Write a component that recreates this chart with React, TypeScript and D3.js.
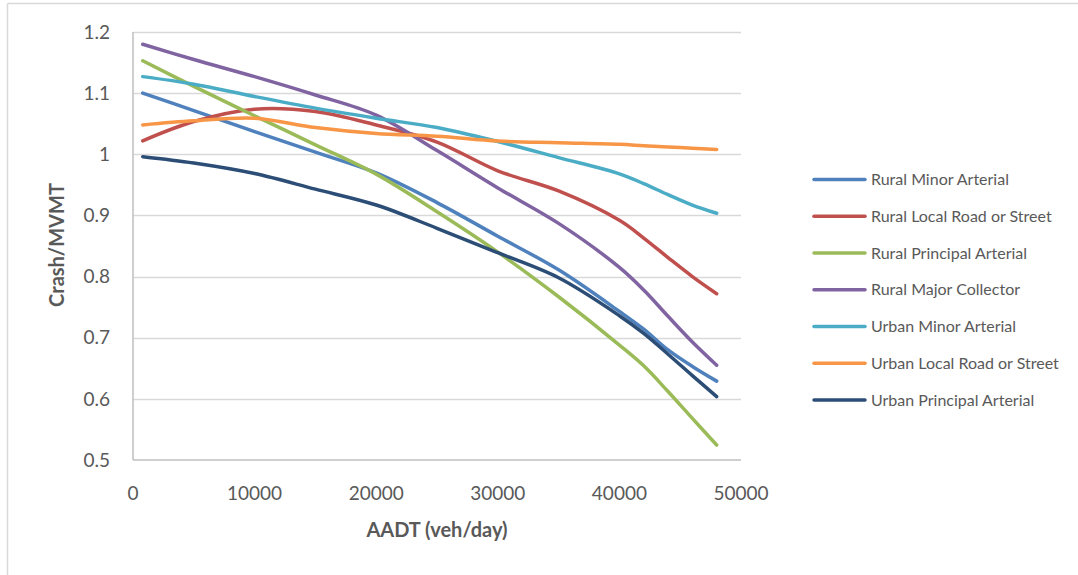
import React, { useEffect, useRef } from "react";
import * as d3 from "d3";

// AADT sample points (veh/day) shared by every series
const aadt = [800, 5000, 10000, 15000, 20000, 25000, 30000, 35000, 40000, 42000, 44000, 46000, 48000];

const seriesNames = [
  "Rural Minor Arterial",
  "Rural Local Road or Street",
  "Rural Principal Arterial",
  "Rural Major Collector",
  "Urban Minor Arterial",
  "Urban Local Road or Street",
  "Urban Principal Arterial",
];

const ruralMinorArterial = [1.100, 1.0715, 1.037, 1.0035, 0.9696, 0.921, 0.866, 0.811, 0.743, 0.714, 0.680, 0.653, 0.629];
const ruralLocalRoad = [1.022, 1.0536, 1.0738, 1.070, 1.048, 1.020, 0.973, 0.940, 0.892, 0.863, 0.831, 0.800, 0.772];
const ruralPrincipalArterial = [1.153, 1.111, 1.063, 1.0155, 0.9675, 0.906, 0.840, 0.767, 0.688, 0.654, 0.612, 0.568, 0.5245];
const ruralMajorCollector = [1.180, 1.155, 1.127, 1.097, 1.064, 1.006, 0.945, 0.887, 0.815, 0.778, 0.735, 0.693, 0.655];
const urbanMinorArterial = [1.127, 1.1147, 1.0945, 1.0755, 1.059, 1.0437, 1.0208, 0.9946, 0.968, 0.952, 0.934, 0.917, 0.9035];
const urbanLocalRoad = [1.048, 1.0547, 1.059, 1.0437, 1.034, 1.0296, 1.0218, 1.019, 1.0164, 1.014, 1.012, 1.010, 1.008];
const urbanPrincipalArterial = [0.996, 0.9857, 0.9685, 0.943, 0.917, 0.879, 0.839, 0.798, 0.736, 0.707, 0.673, 0.638, 0.6036];

const seriesValues = [
  ruralMinorArterial,
  ruralLocalRoad,
  ruralPrincipalArterial,
  ruralMajorCollector,
  urbanMinorArterial,
  urbanLocalRoad,
  urbanPrincipalArterial,
];

const seriesColors = ["#4F81BD", "#C0504D", "#9BBB59", "#8064A2", "#4BACC6", "#F79646", "#2C4D75"];

const xTicks = [0, 10000, 20000, 30000, 40000, 50000];
const yTicks = [0.5, 0.6, 0.7, 0.8, 0.9, 1.0, 1.1, 1.2];

const W = 1078;
const H = 575;
const FONT = "Lato, 'Open Sans', sans-serif";

export default function App() {
  const ref = useRef<SVGSVGElement | null>(null);

  useEffect(() => {
    const svg = d3.select(ref.current);
    svg.selectAll("*").remove();

    // chart frame
    svg.append("rect").attr("x", 0).attr("y", 0).attr("width", W).attr("height", H).attr("fill", "#fff");
    svg.append("line").attr("x1", 7.5).attr("x2", W).attr("y1", 3.5).attr("y2", 3.5).attr("stroke", "#D9D9D9").attr("stroke-width", 1.5);
    svg.append("line").attr("x1", 7.5).attr("x2", 7.5).attr("y1", 3.5).attr("y2", H).attr("stroke", "#D9D9D9").attr("stroke-width", 1.5);

    const x = d3.scaleLinear().domain([0, 50000]).range([133, 741]);
    const y = d3.scaleLinear().domain([0.5, 1.2]).range([460, 32]);

    // horizontal gridlines
    svg.append("g")
      .selectAll("line")
      .data(yTicks.filter((t) => t > 0.5))
      .join("line")
      .attr("x1", x(0))
      .attr("x2", x(50000))
      .attr("y1", (d) => Math.round(y(d)) + 0.5)
      .attr("y2", (d) => Math.round(y(d)) + 0.5)
      .attr("stroke", "#D9D9D9")
      .attr("stroke-width", 1.5);

    // axes lines
    svg.append("line")
      .attr("x1", x(0)).attr("x2", x(0))
      .attr("y1", y(1.2)).attr("y2", y(0.5))
      .attr("stroke", "#BFBFBF").attr("stroke-width", 1.5);
    svg.append("line")
      .attr("x1", x(0)).attr("x2", x(50000))
      .attr("y1", y(0.5)).attr("y2", y(0.5))
      .attr("stroke", "#BFBFBF").attr("stroke-width", 1.5);

    // y tick labels
    svg.append("g")
      .selectAll("text")
      .data(yTicks)
      .join("text")
      .attr("x", 110)
      .attr("y", (d) => y(d))
      .attr("dy", "0.35em")
      .attr("text-anchor", "end")
      .attr("font-family", FONT)
      .attr("font-size", 19)
      .attr("fill", "#595959")
      .text((d) => d3.format("")(d));

    // x tick labels
    svg.append("g")
      .selectAll("text")
      .data(xTicks)
      .join("text")
      .attr("x", (d) => x(d))
      .attr("y", 493)
      .attr("dy", "0.35em")
      .attr("text-anchor", "middle")
      .attr("font-family", FONT)
      .attr("font-size", 19)
      .attr("fill", "#595959")
      .text((d) => String(d));

    // axis titles
    svg.append("text")
      .attr("x", 437)
      .attr("y", 530)
      .attr("dy", "0.35em")
      .attr("text-anchor", "middle")
      .attr("font-family", FONT)
      .attr("font-weight", "bold")
      .attr("font-size", 20)
      .attr("fill", "#595959")
      .text("AADT (veh/day)");

    svg.append("text")
      .attr("transform", "translate(57,245) rotate(-90)")
      .attr("dy", "0.35em")
      .attr("text-anchor", "middle")
      .attr("font-family", FONT)
      .attr("font-weight", "bold")
      .attr("font-size", 20)
      .attr("fill", "#595959")
      .text("Crash/MVMT");

    // smoothed series lines
    const line = d3
      .line<number>()
      .x((_, i) => x(aadt[i]))
      .y((d) => y(d))
      .curve(d3.curveCatmullRom.alpha(0.5));

    svg.append("g")
      .selectAll("path")
      .data(seriesValues)
      .join("path")
      .attr("d", (d) => line(d))
      .attr("fill", "none")
      .attr("stroke", (_, i) => seriesColors[i])
      .attr("stroke-width", 3.5)
      .attr("stroke-linecap", "round")
      .attr("stroke-linejoin", "round");

    // legend
    const legend = svg.append("g");
    seriesNames.forEach((name, i) => {
      const ly = 179.5 + i * 36.75;
      legend.append("line")
        .attr("x1", 814).attr("x2", 865)
        .attr("y1", ly).attr("y2", ly)
        .attr("stroke", seriesColors[i])
        .attr("stroke-width", 3.5)
        .attr("stroke-linecap", "round");
      legend.append("text")
        .attr("x", 871)
        .attr("y", ly)
        .attr("dy", "0.35em")
        .attr("font-family", FONT)
        .attr("font-size", 16)
        .attr("fill", "#595959")
        .text(name);
    });
  }, []);

  return (
    <svg
      ref={ref}
      width={W}
      height={H}
      style={{ position: "absolute", left: 0, top: 0, display: "block" }}
    />
  );
}
